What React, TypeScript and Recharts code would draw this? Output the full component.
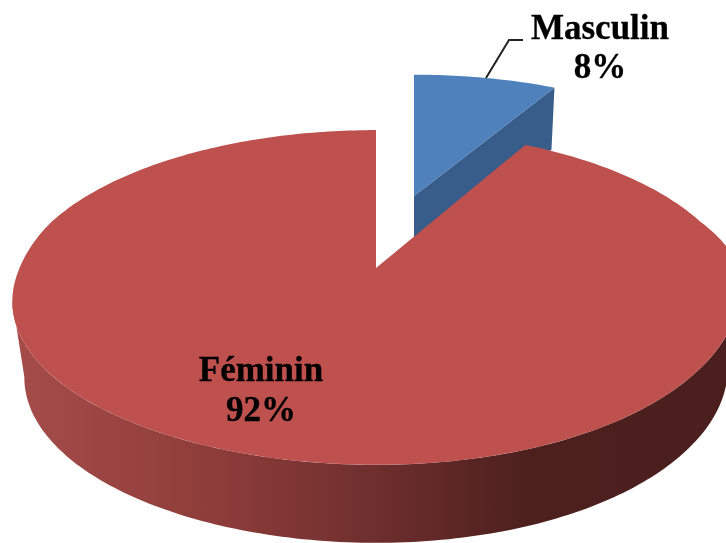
import React from "react";
import { PieChart, Pie, Cell } from "recharts";

const categories = ["Masculin", "Féminin"];
const shares = [8, 92];
const faceColors = ["#4f81bd", "#be504d"];

const tableData = categories.map((name, i) => ({ name, value: shares[i] }));

const W = 726;
const H = 543;

// Small asymmetry of the drawn disc: fuller lower left, raised lower right
const warp = (tDeg: number, left: number, right: number) => {
  const t = (tDeg * Math.PI) / 180;
  const u = Math.sin(t);
  const v = Math.cos(t);
  const fade = v < 0 ? 1 : Math.max(0, 1 - v / 0.3);
  return (u < 0 ? left : -right) * Math.abs(u) ** 3 * fade;
};

// Perspective projection of the unit disc onto the page
const flat = (tDeg: number) => {
  const t = (tDeg * Math.PI) / 180;
  const u = Math.sin(t);
  const v = Math.cos(t);
  const w = 1 + 0.176 * v;
  return { x: 376 + (358 * u) / w, y: (268 - 115 * v) / w };
};
const project = (tDeg: number) => {
  const p = flat(tDeg);
  return { x: p.x, y: p.y + warp(tDeg, 4, 9) };
};
const lowerRim = (tDeg: number) => {
  const p = flat(tDeg);
  return {
    x: 376 + (p.x - 376) * 0.967,
    y: 297 + (p.y - 297) * 1.012 + 76 + warp(tDeg, 4, 5),
  };
};
const explodedPoint = (tDeg: number) => {
  const p = flat(tDeg);
  return { x: 414 + (p.x - 376) * 0.94, y: 196 + (p.y - 268) * 0.88 };
};
const toPath = (pts: { x: number; y: number }[]) =>
  "M" + pts.map((p) => `${p.x.toFixed(2)},${p.y.toFixed(2)}`).join("L") + "Z";

const arc = (from: number, to: number, fn: (t: number) => { x: number; y: number }) => {
  const pts = [];
  const n = Math.max(2, Math.ceil(Math.abs(to - from)));
  for (let i = 0; i <= n; i++) pts.push(fn(from + ((to - from) * i) / n));
  return pts;
};

const SliceShape = (props: any) => {
  const { startAngle, endAngle, fill } = props;
  const t0 = 90 - startAngle;
  const t1 = 90 - endAngle;
  const isSmall = t1 - t0 < 90;
  if (isSmall) {
    const top = arc(t0, t1, explodedPoint);
    const apex = { x: 414, y: 196 };
    const end = top[top.length - 1];
    return (
      <g>
        <path
          d={toPath([apex, end, { x: end.x - 3, y: end.y + 62 }, { x: apex.x, y: apex.y + 42 }])}
          fill="#385d8a"
        />
        <path d={toPath([apex, ...top])} fill={fill} />
      </g>
    );
  }
  const a = Math.max(t0, 100);
  const b = Math.min(t1, 260);
  const ribbon = [...arc(a, b, project), ...arc(b, a, lowerRim)];
  return (
    <g>
      <path d={toPath(ribbon)} fill="url(#redSide)" />
      <path d={toPath([{ x: 376, y: 268 }, ...arc(t0, t1, project)])} fill={fill} />
    </g>
  );
};

const labelSpots = [
  { x: 600, y1: 39, y2: 78 },
  { x: 261, y1: 381, y2: 421 },
];

const SliceLabel = (props: any) => {
  const { index, name, value } = props;
  const s = labelSpots[index];
  return (
    <g>
      {index === 0 && (
        <polyline points="486,78 509,40 523,40" fill="none" stroke="#222" strokeWidth={2} />
      )}
      <text
        textAnchor="middle"
        fontFamily="'Liberation Serif', serif"
        fontWeight="bold"
        fontSize={35}
        fill="#000"
        stroke="#000"
        strokeWidth={0.3}
      >
        <tspan x={s.x} y={s.y1}>{name}</tspan>
        <tspan x={s.x} y={s.y2}>{`${value}%`}</tspan>
      </text>
    </g>
  );
};

export default function App() {
  return (
    <div style={{ position: "absolute", left: 0, top: 0, width: W, height: H, overflow: "hidden", background: "#fff", filter: "blur(0.7px)" }}>
      <PieChart width={W} height={H} margin={{ top: 0, right: 0, bottom: 0, left: 0 }}>
        <defs>
          <linearGradient id="redSide" gradientUnits="userSpaceOnUse" x1="15" y1="0" x2="726" y2="0">
            <stop offset="0" stopColor="#a54c49" />
            <stop offset="0.27" stopColor="#8f3d3a" />
            <stop offset="0.47" stopColor="#733130" />
            <stop offset="0.72" stopColor="#4d201e" />
            <stop offset="1" stopColor="#4b1f1d" />
          </linearGradient>
        </defs>
        <Pie
          data={tableData}
          dataKey="value"
          nameKey="name"
          cx={376}
          cy={297}
          outerRadius={168}
          startAngle={90}
          endAngle={-270}
          stroke="none"
          isAnimationActive={false}
          shape={SliceShape}
          activeShape={SliceShape}
          inactiveShape={SliceShape}
          label={SliceLabel}
          labelLine={false}
        >
          {tableData.map((d, i) => (
            <Cell key={d.name} fill={faceColors[i]} />
          ))}
        </Pie>
      </PieChart>
    </div>
  );
}
